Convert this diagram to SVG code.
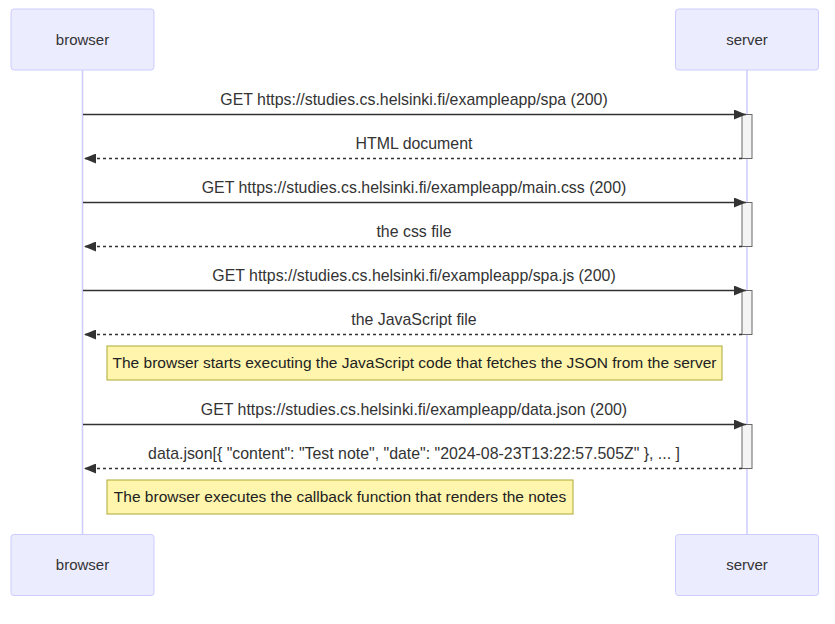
<svg xmlns="http://www.w3.org/2000/svg" width="835" height="624" viewBox="0 0 835 624">
<style>
.actor{fill:#ECECFF;stroke:#CCCCFF;stroke-width:1}
.life{stroke:#CCCCFF;stroke-width:1.5}
.act{fill:#F4F4F4;stroke:#666;stroke-width:1}
.msg{stroke:#333;stroke-width:1.5;fill:none}
.dash{stroke-dasharray:3,3}
.note{fill:#FFF5AD;stroke:#AAAA33;stroke-width:1}
text{font-family:"Trebuchet MS","Liberation Sans","DejaVu Sans",sans-serif;font-size:15px;fill:#333;text-anchor:middle;dominant-baseline:middle}
.ml{font-size:15.9px}
.nt{fill:#222;font-size:15.5px}
</style>
<defs>
<marker id="ah" viewBox="0 0 12 10" refX="12" refY="5" markerWidth="12" markerHeight="10" markerUnits="userSpaceOnUse" orient="auto-start-reverse">
<path d="M0,0 L12,5 L0,10 z" fill="#333"/>
</marker>
</defs>
<rect width="835" height="624" fill="#fff"/>
<g id="lifelines">
<line class="life" x1="82.5" y1="70" x2="82.5" y2="534"/>
<line class="life" x1="747" y1="70" x2="747" y2="534"/>
</g>
<g id="browser-top"><rect class="actor" x="11" y="9" width="143" height="61" rx="3"/><text x="82.5" y="41">browser</text></g>
<g id="server-top"><rect class="actor" x="675.5" y="9" width="143" height="61" rx="3"/><text x="747" y="41">server</text></g>
<g id="browser-bottom"><rect class="actor" x="11" y="534.5" width="143" height="61" rx="3"/><text x="82.5" y="566">browser</text></g>
<g id="server-bottom"><rect class="actor" x="675.5" y="534.5" width="143" height="61" rx="3"/><text x="747" y="566">server</text></g>
<g id="activations">
<rect class="act" x="742" y="114.5" width="10" height="44"/>
<rect class="act" x="742" y="202.5" width="10" height="44"/>
<rect class="act" x="742" y="290.5" width="10" height="44"/>
<rect class="act" x="742" y="424.5" width="10" height="44"/>
</g>
<g id="connectors">
<line class="msg" x1="83" y1="114.5" x2="746" y2="114.5" marker-end="url(#ah)"/>
<text class="ml" x="414" y="100.5">GET https://studies.cs.helsinki.fi/exampleapp/spa (200)</text>
<line class="msg dash" x1="742" y1="158.5" x2="84" y2="158.5" marker-end="url(#ah)"/>
<text class="ml" x="414" y="144.5">HTML document</text>
<line class="msg" x1="83" y1="202.5" x2="746" y2="202.5" marker-end="url(#ah)"/>
<text class="ml" x="414" y="188.5">GET https://studies.cs.helsinki.fi/exampleapp/main.css (200)</text>
<line class="msg dash" x1="742" y1="246.5" x2="84" y2="246.5" marker-end="url(#ah)"/>
<text class="ml" x="414" y="232.5">the css file</text>
<line class="msg" x1="83" y1="290.5" x2="746" y2="290.5" marker-end="url(#ah)"/>
<text class="ml" x="414" y="276.5">GET https://studies.cs.helsinki.fi/exampleapp/spa.js (200)</text>
<line class="msg dash" x1="742" y1="334.5" x2="84" y2="334.5" marker-end="url(#ah)"/>
<text class="ml" x="414" y="320.5">the JavaScript file</text>
<line class="msg" x1="83" y1="424.5" x2="746" y2="424.5" marker-end="url(#ah)"/>
<text class="ml" x="414" y="410.5">GET https://studies.cs.helsinki.fi/exampleapp/data.json (200)</text>
<line class="msg dash" x1="742" y1="468.5" x2="84" y2="468.5" marker-end="url(#ah)"/>
<text class="ml" x="414" y="454.5">data.json[{ "content": "Test note", "date": "2024-08-23T13:22:57.505Z" }, ... ]</text>
</g>
<g id="note1"><rect class="note" x="107" y="346" width="615" height="34"/><text class="nt" x="414.5" y="364">The browser starts executing the JavaScript code that fetches the JSON from the server</text></g>
<g id="note2"><rect class="note" x="107" y="480" width="466" height="34"/><text class="nt" x="340" y="498">The browser executes the callback function that renders the notes</text></g>
</svg>
